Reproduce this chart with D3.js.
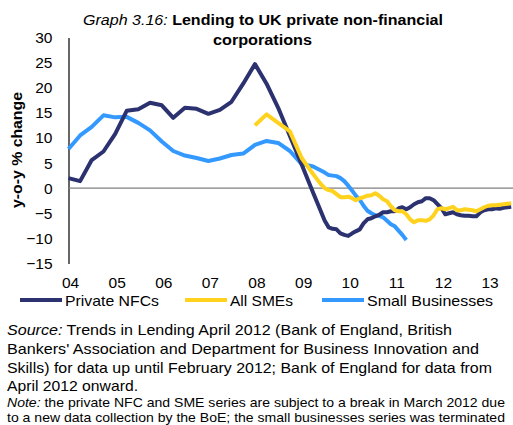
<!DOCTYPE html>
<html><head><meta charset="utf-8">
<script src="https://cdn.jsdelivr.net/npm/d3@7"></script>
<style>
html,body{margin:0;padding:0;background:#fff;overflow:hidden}
svg{display:block;font-family:"Liberation Sans",Arial,sans-serif}
</style></head>
<body><svg id="c" width="513" height="425"></svg>
<script>
const yTicks = [30,25,20,15,10,5,0,-5,-10,-15];
const yearLabels = ["04","05","06","07","08","09","10","11","12","13"];
const seriesNames = ["Private NFCs","All SMEs","Small Businesses"];

const nfcDates = ["2004-01","2004-04","2004-07","2004-10","2005-01","2005-04","2005-07","2005-10","2006-01","2006-04","2006-07","2006-10","2007-01","2007-04","2007-07","2007-10","2008-01","2008-04","2008-07","2008-10","2009-01","2009-04","2009-07","2009-08","2009-09","2009-10","2009-11","2009-12","2010-01","2010-02","2010-03","2010-04","2010-05","2010-06","2010-07","2010-08","2010-09","2010-10","2010-11","2010-12","2011-01","2011-02","2011-03","2011-04","2011-05","2011-06","2011-07","2011-08","2011-09","2011-10","2011-11","2011-12","2012-01","2012-02","2012-03","2012-04","2012-05","2012-06","2012-07","2012-08","2012-09","2012-10","2012-11","2012-12","2013-01","2013-02","2013-03","2013-04","2013-05","2013-06","2013-07"];
const nfcValues = [2.0,1.4,5.6,7.3,10.8,15.4,15.7,17.0,16.5,14.0,16.0,15.8,14.8,15.6,17.2,20.8,24.7,20.8,16.0,10.4,4.7,-0.9,-6.5,-7.8,-8.1,-8.2,-9.0,-9.3,-9.5,-9.0,-8.6,-8.2,-7.0,-6.2,-6.0,-5.6,-5.3,-4.8,-4.8,-4.6,-4.6,-4.0,-3.8,-4.2,-3.8,-3.2,-2.8,-2.6,-2.0,-2.0,-2.4,-3.2,-4.0,-5.2,-5.0,-4.8,-5.2,-5.4,-5.5,-5.5,-5.6,-5.6,-4.8,-4.4,-4.2,-4.2,-4.0,-4.1,-3.9,-3.8,-3.7];

const smeDates = ["2008-01","2008-04","2008-07","2008-10","2009-01","2009-04","2009-05","2009-06","2009-07","2009-08","2009-09","2009-10","2009-11","2009-12","2010-01","2010-02","2010-03","2010-04","2010-05","2010-06","2010-07","2010-08","2010-09","2010-10","2010-11","2010-12","2011-01","2011-02","2011-03","2011-04","2011-05","2011-06","2011-07","2011-08","2011-09","2011-10","2011-11","2011-12","2012-01","2012-02","2012-03","2012-04","2012-05","2012-06","2012-07","2012-08","2012-09","2012-10","2012-11","2012-12","2013-01","2013-02","2013-03","2013-04","2013-05","2013-06","2013-07"];
const smeValues = [12.5,14.7,13.0,11.3,6.0,2.8,1.8,0.8,0.0,-0.4,-0.6,-1.2,-1.8,-1.8,-1.7,-2.0,-2.4,-2.0,-1.8,-1.5,-1.4,-1.0,-1.5,-2.2,-2.6,-3.6,-4.4,-4.6,-4.6,-5.2,-6.2,-6.8,-6.4,-6.4,-6.5,-6.2,-5.4,-4.2,-4.0,-4.2,-4.0,-3.7,-4.4,-4.4,-4.2,-4.3,-4.4,-4.6,-4.2,-3.8,-3.5,-3.4,-3.4,-3.3,-3.2,-3.1,-3.0];

const sbDates = ["2004-01","2004-04","2004-07","2004-10","2005-01","2005-04","2005-07","2005-10","2006-01","2006-04","2006-07","2006-10","2007-01","2007-04","2007-07","2007-10","2008-01","2008-04","2008-07","2008-10","2009-01","2009-04","2009-05","2009-06","2009-07","2009-08","2009-09","2009-10","2009-11","2009-12","2010-01","2010-02","2010-03","2010-04","2010-05","2010-06","2010-07","2010-08","2010-09","2010-10","2010-11","2010-12","2011-01","2011-02","2011-03","2011-04"];
const sbValues = [7.8,10.5,12.2,14.5,14.1,14.2,13.0,11.5,9.3,7.4,6.5,6.0,5.4,5.9,6.6,6.9,8.6,9.4,9.0,7.4,4.8,4.3,3.9,3.5,3.1,2.6,2.5,2.4,2.0,1.4,0.5,-0.5,-1.5,-2.3,-3.5,-4.5,-5.0,-5.4,-5.5,-5.8,-6.5,-7.2,-7.6,-8.5,-9.3,-10.3];

const colors = ["#2C3270","#FFD21E","#3399FF"];

const parse = d3.timeParse("%Y-%m");
const svg = d3.select("#c");
const x = d3.scaleTime().domain([new Date(2004,0,1), new Date(2013,6,1)]).range([68.5, 511.2]);
const y = d3.scaleLinear().domain([-15,30]).range([263.5, 37.5]);

const fit = (sel, len) => sel.attr("textLength", len).attr("lengthAdjust", "spacingAndGlyphs");

// title
const t1 = svg.append("text").attr("x",83).attr("y",25).attr("font-size",14.5).attr("fill","#000");
t1.append("tspan").attr("font-style","italic").text("Graph 3.16: ");
t1.append("tspan").attr("font-weight","bold").text("Lending to UK private non-financial");
fit(t1, 360);
fit(svg.append("text").attr("x",213).attr("y",45).attr("font-size",14.5).attr("font-weight","bold").text("corporations"), 99);

// y axis label
fit(svg.append("text").attr("transform","translate(22,150) rotate(-90)").attr("text-anchor","middle")
  .attr("font-size",14).attr("font-weight","bold").text("y-o-y % change"), 116);

// y axis
const yAxis = d3.axisLeft(y).tickValues(yTicks).tickSize(0).tickPadding(16).tickFormat(d3.format("d"));
const ga = svg.append("g").attr("transform","translate(68.5,0)").call(yAxis);
ga.select(".domain").attr("stroke","#000").attr("stroke-width",1.2);
ga.selectAll("text").attr("font-size",15.5).attr("font-family","Liberation Sans, Arial, sans-serif").attr("fill","#000");

// zero line
svg.append("line").attr("x1",68.5).attr("x2",513).attr("y1",y(0)).attr("y2",y(0)).attr("stroke","#808080").attr("stroke-width",1.2);

// x axis labels
const xTickDates = yearLabels.map(l => new Date(2000+ +l,0,1));
const xAxis = d3.axisBottom(x).tickValues(xTickDates).tickSize(0).tickPadding(13).tickFormat((d,i)=>yearLabels[i]);
const gx = svg.append("g").attr("transform","translate(1.5,"+y(-15)+")").call(xAxis);
gx.select(".domain").remove();
gx.selectAll("text").attr("font-size",15.5).attr("font-family","Liberation Sans, Arial, sans-serif").attr("fill","#000");

// lines
const line = d3.line().x(d=>x(d[0])).y(d=>y(d[1]));
const series = [[nfcDates,nfcValues],[smeDates,smeValues],[sbDates,sbValues]];
[2,0,1].forEach(i=>{
  const [ds,vs] = series[i];
  const data = ds.map((d,j)=>[parse(d),vs[j]]);
  svg.append("path").datum(data).attr("d",line).attr("fill","none")
    .attr("stroke",colors[i]).attr("stroke-width",4).attr("stroke-linejoin","round");
});

// legend
const legX = [20,185,322];
const legLen = [94,63,126];
seriesNames.forEach((n,i)=>{
  svg.append("line").attr("x1",legX[i]).attr("x2",legX[i]+42).attr("y1",300).attr("y2",300).attr("stroke",colors[i]).attr("stroke-width",4);
  fit(svg.append("text").attr("x",legX[i]+45).attr("y",305.5).attr("font-size",15).text(n), legLen[i]);
});

// source
const src = [
  [["Source:",true]," Trends in Lending April 2012 (Bank of England, British"],
  ["Bankers' Association and Department for Business Innovation and"],
  ["Skills) for data up until February 2012; Bank of England for data from"],
  ["April 2012 onward."]
];
const srcY = [335,354,373,391];
const srcLen = [445,472,485,131];
src.forEach((parts,i)=>{
  const t = svg.append("text").attr("x",7).attr("y",srcY[i]).attr("font-size",15);
  parts.forEach(p=>{
    if (Array.isArray(p)) t.append("tspan").attr("font-style","italic").text(p[0]);
    else t.append("tspan").text(p);
  });
  fit(t, srcLen[i]);
});
const note1 = svg.append("text").attr("x",7).attr("y",407).attr("font-size",12.6);
note1.append("tspan").attr("font-style","italic").text("Note:");
note1.append("tspan").text(" the private NFC and SME series are subject to a break in March 2012 due");
fit(note1, 498);
fit(svg.append("text").attr("x",7).attr("y",422).attr("font-size",12.6).text("to a new data collection by the BoE; the small businesses series was terminated"), 498);
</script></body></html>
